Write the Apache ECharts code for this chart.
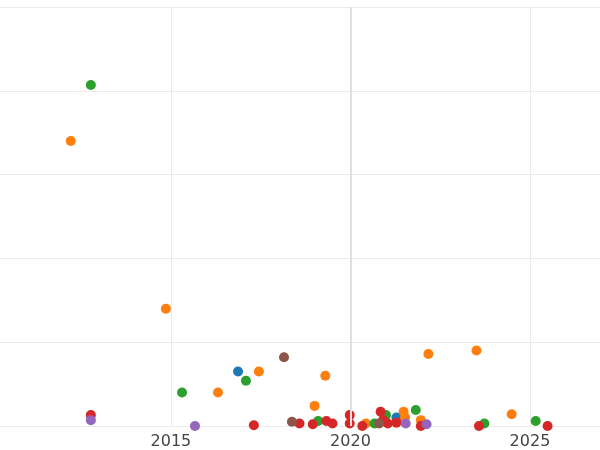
<!DOCTYPE html>
<html><head><meta charset="utf-8">
<script src="https://cdn.jsdelivr.net/npm/echarts@6/dist/echarts.min.js"></script>
<style>html,body{margin:0;padding:0;background:#fff}#c{width:600px;height:450px}</style>
</head><body><div id="c"></div>
<script>
const blue = [[2016.87,0.65],[2021.28,0.10]];
const orange = [[2012.21,3.40],[2014.86,1.40],[2016.31,0.40],[2017.45,0.65],[2019.30,0.60],[2019.0,0.24],[2020.43,0.03],[2021.48,0.17],[2021.52,0.10],[2021.96,0.07],[2022.17,0.86],[2023.51,0.90],[2024.49,0.14]];
const green = [[2012.77,4.07],[2015.31,0.40],[2017.09,0.54],[2019.1,0.06],[2020.67,0.03],[2020.99,0.13],[2021.82,0.19],[2023.73,0.03],[2025.16,0.06]];
const red = [[2012.77,0.13],[2017.31,0.01],[2018.58,0.03],[2018.95,0.02],[2019.33,0.06],[2019.5,0.03],[2019.98,0.13],[2019.98,0.03],[2020.33,0.0],[2020.84,0.17],[2020.91,0.07],[2021.04,0.03],[2021.28,0.04],[2021.96,0.0],[2023.58,0.0],[2025.49,0.0]];
const purple = [[2012.77,0.07],[2015.67,0.0],[2021.54,0.03],[2022.12,0.02]];
const brown = [[2018.15,0.82],[2018.37,0.05],[2020.8,0.03]];
const xTicks = [2015,2020,2025];
const mk = (name,data,color)=>({name,type:'scatter',data,symbolSize:10,itemStyle:{color,opacity:1},clip:true});
const chart = echarts.init(document.getElementById('c'));
chart.setOption({
  animation:false,
  grid:{left:0,right:0,top:7,bottom:23,containLabel:false},
  xAxis:{type:'value',min:2010.24,max:2026.95,
    axisLine:{show:false},
    axisTick:{show:false,customValues:xTicks},
    axisLabel:{fontSize:16,color:'#444',fontFamily:'DejaVu Sans',customValues:xTicks,formatter:v=>String(v)},
    splitLine:{show:true,lineStyle:{color:'#ebebeb',width:1}}},
  yAxis:{type:'value',min:0,max:5,interval:1,axisLine:{show:false},axisTick:{show:false},axisLabel:{show:false},
    splitLine:{lineStyle:{color:'#ebebeb',width:1}}},
  series:[
    {type:'line',data:[],markLine:{silent:true,symbol:'none',label:{show:false},lineStyle:{color:'#e0e0e0',type:'solid',width:2},data:[{xAxis:2020}]}},
    mk('blue',blue,'#1f77b4'),mk('orange',orange,'#ff7f0e'),mk('green',green,'#2ca02c'),
    mk('red',red,'#d62728'),mk('purple',purple,'#9467bd'),mk('brown',brown,'#8c564b')
  ]
});
</script></body></html>
